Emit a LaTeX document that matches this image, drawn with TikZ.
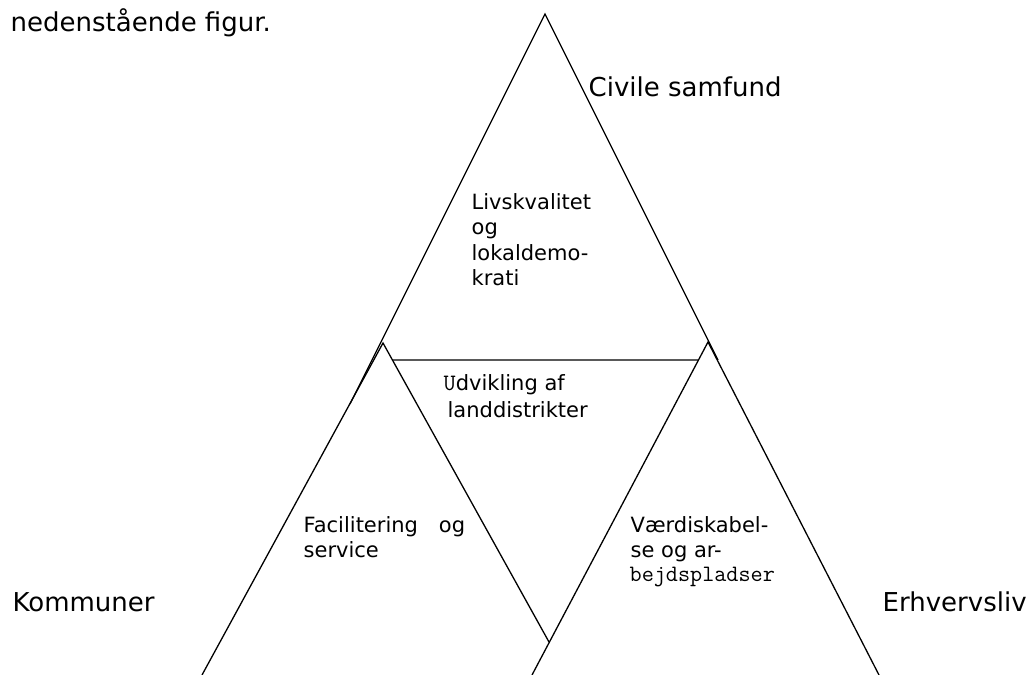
\documentclass[tikz,border=0pt]{standalone}
\usepackage{fontspec}
\setmainfont{DejaVu Sans}
\newcommand\courier{\ttfamily\fontsize{23.5}{25}\selectfont}
\usetikzlibrary{calc}
\begin{document}
\begin{tikzpicture}[x=1pt,y=-1pt,line width=1.3pt,
  bigtxt/.style={font=\fontsize{26}{31}\selectfont, anchor=base west, inner sep=0pt},
  smalltxt/.style={font=\fontsize{21}{25}\selectfont, anchor=base west, inner sep=0pt}]
  \useasboundingbox (0,0) rectangle (1029,675);
  % corners of the three triangles
  \coordinate (top) at (545,14);
  \coordinate (bigL) at (350,404);
  \coordinate (bigR) at (718,360);
  \coordinate (lTop) at (383,343);
  \coordinate (lBase) at (202,675);
  \coordinate (joint) at (549,642);
  \coordinate (rTop) at (708,342);
  \coordinate (rBaseL) at (532,675);
  \coordinate (rBaseR) at (879,675);
  \coordinate (midL) at ($(lTop)!0.057!(joint)$);
  \coordinate (midR) at ($(rTop)!0.054!(rBaseL)$);
  \draw (bigL) -- (top) -- (bigR);
  \draw (lBase) -- (lTop) -- (joint);
  \draw (rBaseL) -- (rTop) -- (rBaseR);
  \draw (midL) -- (midR);
  % labels
  \node[bigtxt] (intro) at (10,31) {nedenstående figur.};
  \node[bigtxt] (civil) at (588,96) {Civile samfund};
  \node[bigtxt] (komm) at (12,611) {Kommuner};
  \node[bigtxt] (erhv) at (882,611) {Erhvervsliv};
  \foreach \i/\y/\txt in {1/209/Livskvalitet, 2/234.5/og, 3/260/lokaldemo-, 4/285.5/krati}
    \node[smalltxt] (liv\i) at (471,\y) {\txt};
  \node[smalltxt] (udv1) at (443,390) {{\courier U}dvikling af};
  \node[smalltxt] (udv2) at (447,417) {landdistrikter};
  \node[smalltxt] (fac1) at (303,532) {Facilitering\hspace{21pt}og};
  \node[smalltxt] (fac2) at (303,557) {service};
  \node[smalltxt] (vaerd1) at (630,532) {Værdiskabel-};
  \node[smalltxt] (vaerd2) at (630,557.5) {se og ar-};
  \node[smalltxt] (vaerd3) at (629,581) {\courier bejdspladser};
\end{tikzpicture}
\end{document}
